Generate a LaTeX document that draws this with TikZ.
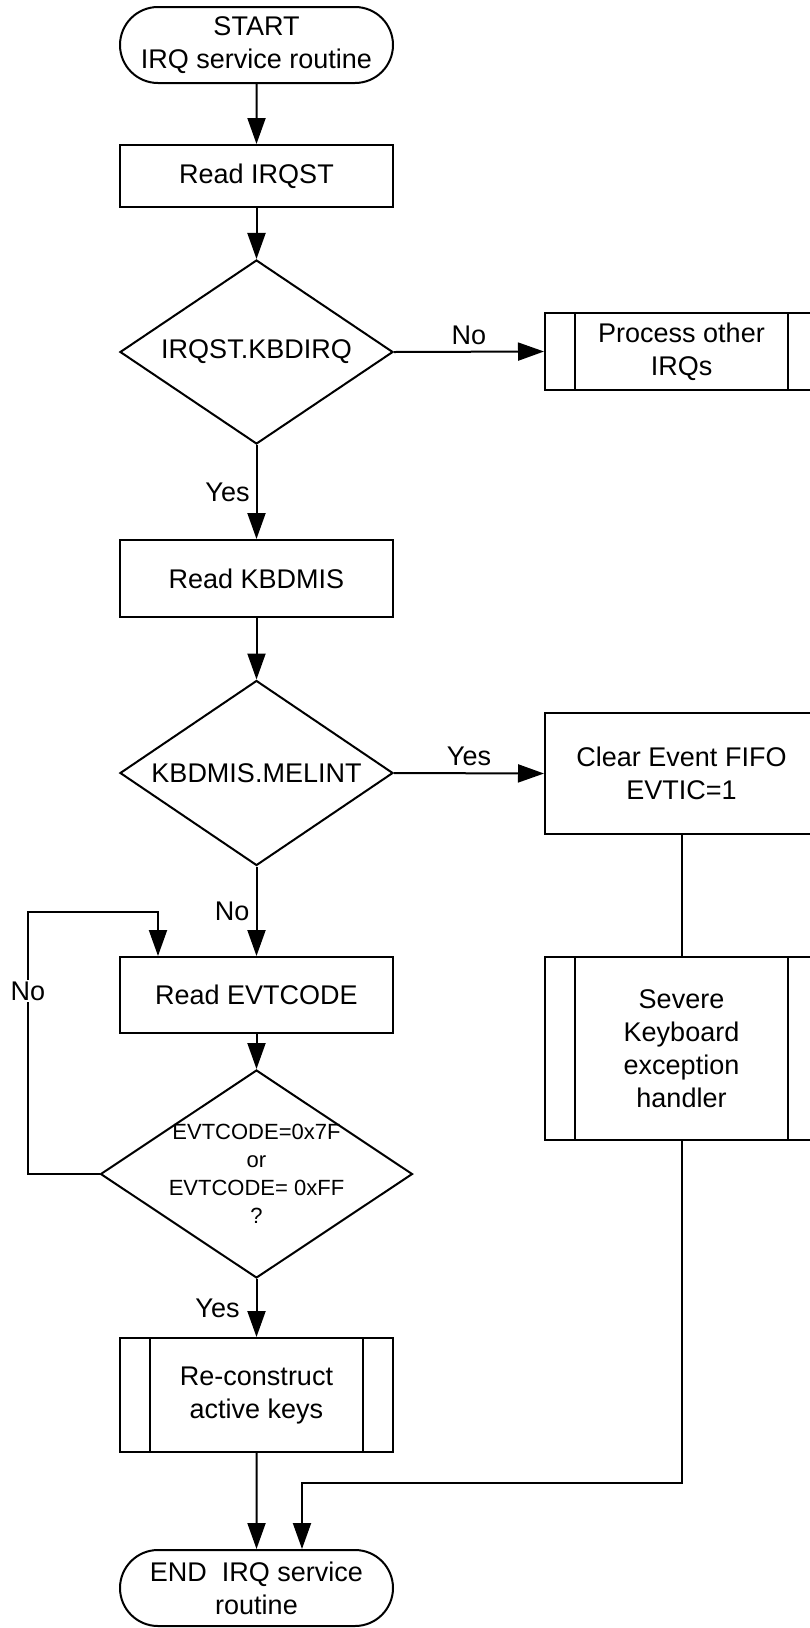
\documentclass[tikz,border=0pt]{standalone}
\usepackage{fontspec}
\setmainfont{Liberation Sans}
\usetikzlibrary{shapes.geometric,shapes.misc,arrows.meta}
\newcommand\mainsz{\fontsize{13.5}{16.5}\selectfont}
\newcommand\smallsz{\fontsize{11}{14}\selectfont}
\tikzset{
  base/.style={draw, line width=1pt, font=\mainsz, align=center, inner sep=0pt},
  term/.style={base, rounded rectangle, minimum width=136.5pt, minimum height=38pt},
  proc/.style={base, rectangle, minimum width=136.5pt, minimum height=31pt},
  subproc/.style={proc, path picture={
    \draw[line width=1pt]
      ([xshift=15pt]path picture bounding box.north west) -- ([xshift=15pt]path picture bounding box.south west)
      ([xshift=-15pt]path picture bounding box.north east) -- ([xshift=-15pt]path picture bounding box.south east);}},
  dec/.style={base, diamond, aspect=1.5, minimum width=136.5pt, minimum height=92pt},
  flow/.style={line width=1pt, -{Triangle[length=13pt,width=9pt]}},
  lbl/.style={font=\mainsz, inner sep=3pt}
}

\begin{document}
\begin{tikzpicture}[x=0.5pt,y=-0.5pt]
\useasboundingbox (0,0) rectangle (809,1628);
% main column
\node[term] (start) at (256.5,45) {START\\IRQ service routine};
\node[proc] (rdirq) at (256.5,176) {Read IRQST};
\node[dec] (dirq) at (256.5,352) {IRQST.KBDIRQ};
\node[proc, minimum height=38.5pt] (rdmis) at (256.5,578.5) {Read KBDMIS};
\node[dec, minimum height=92.5pt] (dmis) at (256.5,773) {KBDMIS.MELINT};
\node[proc, minimum height=38pt] (rdevt) at (256.5,995) {Read EVTCODE};
\node[dec, minimum width=156pt, minimum height=104pt] (dchk) at (256.5,1174) {};
\node[font=\smallsz, align=center, inner sep=0pt] (dchktxt) at (dchk) {EVTCODE=0x7F\\or\\EVTCODE= 0xFF\\?};
\node[subproc, minimum height=57pt] (recon) at (256.5,1395) {Re-construct\\active keys};
\node[term] (stop) at (256.5,1588) {END\ \ IRQ service\\routine};
% right column
\node[subproc, minimum height=38.5pt] (other) at (681.5,351.5) {Process other\\IRQs};
\node[proc, minimum height=60.5pt] (clrf) at (681.5,773.5) {Clear Event FIFO\\EVTIC=1};
\node[subproc, minimum height=91.5pt] (sev) at (681.5,1048.5) {Severe\\Keyboard\\exception\\handler};

\coordinate (lp) at (28,912);
\coordinate (jn) at (302,1483);

\draw[flow] (start) -- (rdirq);
\draw[flow] (rdirq) -- (dirq);
\draw[flow] (dirq.east) -- node[lbl, above] {No} (other.west);
\draw[flow] (dirq.south) -- node[lbl, left] {Yes} (rdmis.north);
\draw[flow] (rdmis) -- (dmis);
\draw[flow] (dmis.east) -- node[lbl, above] {Yes} (clrf.west);
\draw[flow] (dmis.south) -- node[lbl, left] {No} (rdevt.north);
\draw[flow] (rdevt) -- (dchk);
\draw[flow] (dchk.west) -| (lp) -| ([xshift=-49.25pt]rdevt.north);
\node[lbl, fill=white, inner sep=1pt] (nolp) at (28,991) {No};
\draw[flow] (dchk.south) -- node[lbl, left, xshift=-5pt] {Yes} (recon.north);
\draw[flow] (recon) -- (stop);
\draw[line width=1pt] (clrf) -- (sev);
\draw[flow] (sev.south) |- (jn) -- (jn |- stop.north);
\end{tikzpicture}
\end{document}
